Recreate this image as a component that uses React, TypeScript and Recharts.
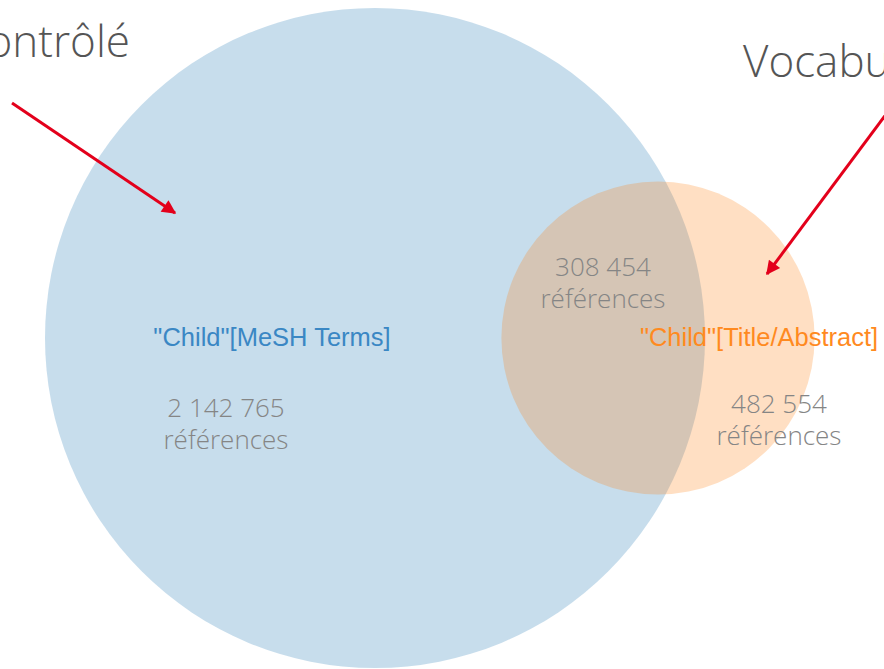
import React from 'react';
import { ScatterChart, Scatter, XAxis, YAxis, ZAxis } from 'recharts';

// Sets (Venn) — areas proportional to counts
const setNames = ['"Child"[MeSH Terms]', '"Child"[Title/Abstract]'];
const setCounts = [2142765, 482554];
const overlapCount = 308454;
const setColors = ['#1f77b4', '#ff7f0e'];
const setLabelColors = ['#3a87c4', '#ff8a1f'];
const setCenterX = [375, 658];
const setCenterY = [338, 338];
const setLabelX = [272, 759];
const setLabelY = [346, 346];

// Count labels
const countValues = [setCounts[0], overlapCount, setCounts[1]];
const countX = [226, 603, 779];
const countY = [417, 276, 413];
const unitLabel = 'références';

// Titles
const titles = ['Vocabulaire contrôlé', 'Vocabulaire libre'];
const titleX = [130, 743];
const titleY = [57, 77];
const titleAnchor = ['end', 'start'];

// Arrows (from title towards the set)
const arrowFrom = [{ x: 12, y: 103 }, { x: 896, y: 101 }];
const arrowTo = [{ x: 175, y: 213 }, { x: 767, y: 274 }];

const fmt = (n: number) => String(n).replace(/\B(?=(\d{3})+(?!\d))/g, ' ');

const circleData = setNames.map((name, i) => ({
  name,
  x: setCenterX[i],
  y: setCenterY[i],
  z: setCounts[i],
  color: setColors[i],
}));

const textData: any[] = [];
setNames.forEach((name, i) => {
  textData.push({ x: setLabelX[i], y: setLabelY[i], text: name, kind: 'set', color: setLabelColors[i] });
});
countValues.forEach((v, i) => {
  textData.push({ x: countX[i], y: countY[i], text: fmt(v), kind: 'count' });
  textData.push({ x: countX[i], y: countY[i] + 32, text: unitLabel, kind: 'count' });
});
titles.forEach((t, i) => {
  textData.push({ x: titleX[i], y: titleY[i], text: t, kind: 'title', anchor: titleAnchor[i] });
});

const CircleShape = (props: any) => {
  const { cx, cy, width, payload } = props;
  const r = width / 2;
  return <circle cx={cx} cy={cy} r={r} fill={payload.color} fillOpacity={0.25} stroke="none" />;
};

const NoShape = () => <g />;

const TextShape = (props: any) => {
  const { cx, cy, payload } = props;
  if (payload.kind === 'set') {
    return (
      <text x={cx} y={cy} textAnchor="middle" fill={payload.color}
        style={{ fontFamily: '"Liberation Sans", Arial, sans-serif', fontSize: 25.5 }}>
        {payload.text}
      </text>
    );
  }
  if (payload.kind === 'count') {
    return (
      <text x={cx} y={cy} textAnchor="middle" fill="#858585"
        style={{ fontFamily: '"Open Sans", sans-serif', fontSize: 26, fontWeight: 300 }}>
        {payload.text}
      </text>
    );
  }
  return (
    <text x={cx} y={cy} textAnchor={payload.anchor} fill="#555555"
      style={{ fontFamily: '"Open Sans", sans-serif', fontSize: 44, fontWeight: 300 }}>
      {payload.text}
    </text>
  );
};

export default function App() {
  const maxR = 330;
  return (
    <div style={{ position: 'absolute', left: 0, top: 0, width: 884, height: 669, background: '#fff' }}>
      <ScatterChart width={884} height={669} margin={{ top: 0, right: 0, bottom: 0, left: 0 }}>
        <defs>
          <marker id="arrowRed" viewBox="0 0 10 10" refX="9" refY="5" markerUnits="userSpaceOnUse"
            markerWidth="17" markerHeight="14" orient="auto">
            <path d="M0,0 L10,5 L0,10 z" fill="#e3001b" />
          </marker>
        </defs>
        <XAxis type="number" dataKey="x" domain={[0, 884]} allowDataOverflow hide />
        <YAxis type="number" dataKey="y" domain={[0, 669]} allowDataOverflow reversed hide />
        <ZAxis type="number" dataKey="z" domain={[0, setCounts[0]]} range={[0, Math.PI * maxR * maxR]} />
        <Scatter data={circleData} shape={<CircleShape />} isAnimationActive={false} />
        {arrowFrom.map((f, i) => (
          <Scatter key={'arrow' + i} data={[f, arrowTo[i]]} shape={<NoShape />}
            line={{ stroke: '#e3001b', strokeWidth: 3, markerEnd: 'url(#arrowRed)' } as any}
            lineJointType="linear" isAnimationActive={false} />
        ))}
        <Scatter data={textData} shape={<TextShape />} isAnimationActive={false} />
      </ScatterChart>
    </div>
  );
}
